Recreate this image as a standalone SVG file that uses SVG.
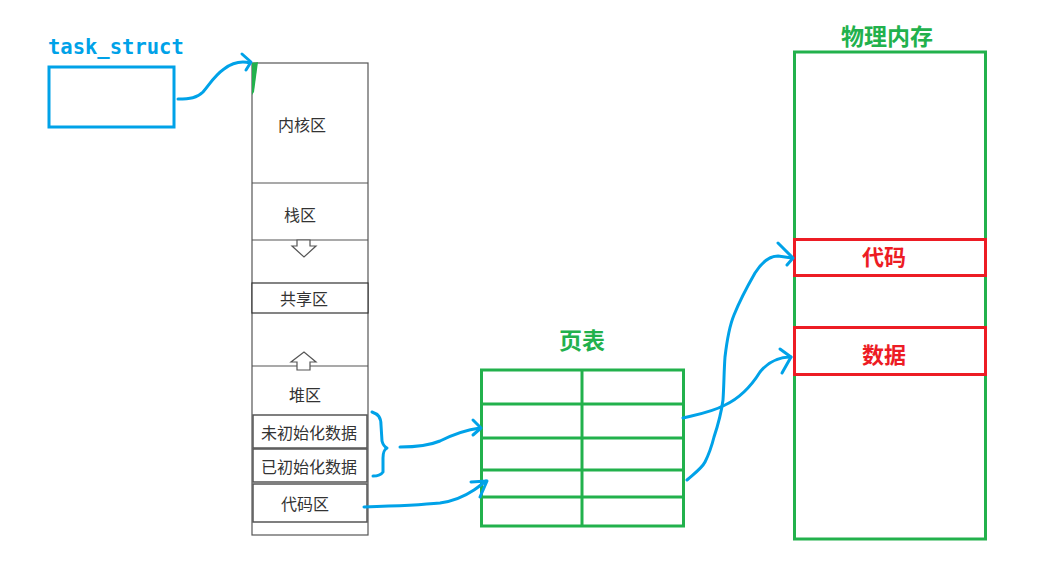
<svg xmlns="http://www.w3.org/2000/svg" width="1043" height="566" viewBox="0 0 1043 566">
<style>
  .cell{fill:#ffffff;stroke:#555555;stroke-width:1.2}
  .lbl{font-family:"Microsoft YaHei","Noto Sans CJK SC",sans-serif;font-size:16px;fill:#333333;text-anchor:middle}
  .green{fill:none;stroke:#22b14c;stroke-width:3}
  .red{fill:none;stroke:#ed1c24;stroke-width:3}
  .gt{font-family:"Noto Sans CJK SC",sans-serif;font-size:23px;font-weight:bold;fill:#22b14c;text-anchor:middle}
  .rt{font-family:"Noto Sans CJK SC",sans-serif;font-size:22px;font-weight:bold;fill:#ed1c24;text-anchor:middle}
  .hollow{fill:#ffffff;stroke:#555555;stroke-width:1.2}
  .wire{fill:none;stroke:#00a2e8;stroke-width:3;stroke-linecap:round;stroke-linejoin:round}
</style>
<rect width="1043" height="566" fill="#ffffff"/>

<g id="task_struct">
  <text x="48" y="54" font-family="DejaVu Sans Mono,monospace" font-size="20.5" font-weight="bold" fill="#00a2e8">task_struct</text>
  <rect x="49" y="67" width="125" height="60" fill="#ffffff" stroke="#00a2e8" stroke-width="3"/>
</g>

<g id="process-space">
  <rect class="cell" x="252" y="63" width="116" height="472"/>
  <line x1="252" y1="183" x2="368" y2="183" stroke="#555" stroke-width="1.2"/>
  <line x1="252" y1="240" x2="368" y2="240" stroke="#555" stroke-width="1.2"/>
  <line x1="252" y1="366" x2="368" y2="366" stroke="#555" stroke-width="1.2"/>
  <path d="M252,63 L258,62 L254,92 L252,95 Z" fill="#22b14c"/>
  <text class="lbl" x="302" y="131">内核区</text>
  <text class="lbl" x="300" y="221">栈区</text>
  <path class="hollow" d="M297,240 L310,240 L310,246 L316,246 L304,257 L292,246 L297,246 Z"/>
  <g id="shared">
    <rect x="252" y="283" width="116" height="30" fill="#fff" stroke="#333" stroke-width="1.2"/>
    <text class="lbl" x="304" y="305">共享区</text>
  </g>
  <path class="hollow" d="M297,370 L310,370 L310,362 L316,362 L304,352 L291,362 L297,362 Z"/>
  <text class="lbl" x="305" y="401">堆区</text>
  <g id="bss">
    <rect x="253" y="415" width="114" height="33" fill="#fff" stroke="#555" stroke-width="1.5"/>
    <text class="lbl" x="309" y="439">未初始化数据</text>
  </g>
  <g id="data">
    <rect x="253" y="449" width="114" height="33" fill="#fff" stroke="#555" stroke-width="1.5"/>
    <text class="lbl" x="309" y="473">已初始化数据</text>
  </g>
  <g id="text-seg">
    <rect x="253" y="484" width="114" height="38" fill="#fff" stroke="#555" stroke-width="1.5"/>
    <text class="lbl" x="305" y="510">代码区</text>
  </g>
</g>

<g id="page-table">
  <text class="gt" x="582" y="349">页表</text>
  <rect class="green" x="481.5" y="370" width="202" height="156"/>
  <line class="green" x1="582" y1="370" x2="582" y2="527"/>
  <line class="green" x1="481.5" y1="404" x2="683.5" y2="404"/>
  <line class="green" x1="481.5" y1="438" x2="683.5" y2="438"/>
  <line class="green" x1="481.5" y1="470" x2="683.5" y2="470"/>
  <line class="green" x1="481.5" y1="497" x2="683.5" y2="497"/>
</g>

<g id="physical-memory">
  <text class="gt" x="887" y="45">物理内存</text>
  <rect class="green" x="794.5" y="52" width="191" height="487"/>
  <g id="phys-code">
    <rect class="red" x="794.5" y="239.5" width="191" height="36"/>
    <text class="rt" x="884" y="265">代码</text>
  </g>
  <g id="phys-data">
    <rect class="red" x="794.5" y="327.5" width="191" height="47"/>
    <text class="rt" x="884" y="363">数据</text>
  </g>
</g>

<g id="connectors">
  <path class="wire" d="M178,99 C190,99 197,98 203,92 C210,84 214,76 224,69 C232,63 242,61 250,63"/>
  <path class="wire" d="M242,54 L251,62 L246,70"/>
  <path class="wire" d="M372,412 C378,414 381,417 381,425 L382,441 C383,445 385,447 387,448 C384,450 383,452 383,458 L383,472 C381,475 378,476 373,476"/>
  <path class="wire" d="M400,447 C415,447 428,446 440,441 C452,435 465,430 480,428"/>
  <path class="wire" d="M473,420 L481,428 L473,435"/>
  <path class="wire" d="M364,507 C395,506 420,505 440,503 C455,501 465,496 474,490 C480,486 483,483 486,481"/>
  <path class="wire" d="M471,482 L487,481 L480,497"/>
  <path class="wire" d="M683,418 C700,414 712,412 725,405 C740,398 750,388 760,372 C768,362 778,357 791,357"/>
  <path class="wire" d="M780,349 L791,357 L782,373"/>
  <path class="wire" d="M687,480 C695,473 702,468 705,462 C710,452 712,445 714,437 C718,425 721,415 723,400 C724,385 724,370 725,357 C727,340 729,327 734,315 C740,300 747,287 755,273 C762,262 770,256 778,256 L792,258"/>
  <path class="wire" d="M778,243 L793,258 L787,265"/>
</g>
</svg>
